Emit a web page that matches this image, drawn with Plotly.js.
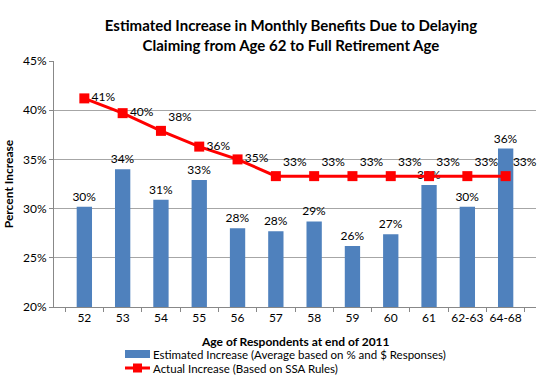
<!DOCTYPE html>
<html><head><meta charset="utf-8">
<script src="https://cdn.plot.ly/plotly-3.0.1.min.js"></script>
<style>html,body{margin:0;padding:0;background:#fff}#chart{width:549px;height:382px}</style>
</head><body><div id="chart"></div>
<script>
const categories = ["52","53","54","55","56","57","58","59","60","61","62-63","64-68"];
const estimated = [30.2, 34.0, 30.9, 32.9, 28.0, 27.7, 28.7, 26.2, 27.4, 32.4, 30.2, 36.1];
const estimatedLabels = ["30%","34%","31%","33%","28%","28%","29%","26%","27%","32%","30%","36%"];
const actual = [41.2, 39.7, 37.9, 36.3, 35.0, 33.3, 33.3, 33.3, 33.3, 33.3, 33.3, 33.3];
const actualLabels = ["41%","40%","38%","36%","35%","33%","33%","33%","33%","33%","33%","33%"];
const seriesNames = ["Estimated Increase (Average based on % and $ Responses)", "Actual Increase (Based on SSA Rules)"];
const xTitle = "Age of Respondents at end of 2011";

const font = "Lato, 'Open Sans', sans-serif";
const blue = "#4F81BD", red = "#FF0000";
const linePos = ["middle right","middle right","top right","middle right","middle right","top right","top right","top right","top right","top right","top right","top right"];

const traces = [
  {type:"bar", x:categories, y:estimated, name:seriesNames[0],
   marker:{color:blue}, text:estimatedLabels, textposition:"outside", cliponaxis:false, constraintext:"none",
   textfont:{family:font, size:12, color:"#000"}, hoverinfo:"skip"},
  {type:"scatter", mode:"lines+markers+text", x:categories, y:actual, name:seriesNames[1],
   line:{color:red, width:3}, marker:{symbol:"square", size:10, color:red},
   text:actualLabels, textposition:linePos, cliponaxis:false,
   textfont:{family:font, size:12, color:"#000"}, hoverinfo:"skip"}
];

const plotL = 54, plotW = 482, plotT = 61, plotH = 246;
const px = x => (x - plotL) / plotW;
const py = y => (plotT + plotH - y) / plotH;

const layout = {
  width:549, height:382,
  margin:{l:54, r:13, t:61, b:75, autoexpand:false},
  paper_bgcolor:"#fff", plot_bgcolor:"#fff",
  font:{family:font, size:12, color:"#000"},
  title:{text:"Estimated Increase in Monthly Benefits Due to Delaying<br>Claiming from Age 62 to Full Retirement Age",
         font:{family:font, size:15, color:"#000", weight:"bold"}, x:0.53, xanchor:"center", y:0.918, yanchor:"middle"},
  bargap:0.6,
  showlegend:false,
  xaxis:{type:"category", showline:true, linecolor:"#888", ticks:"outside", tickson:"boundaries", ticklen:4, tickcolor:"#888",
         tickangle:0, automargin:false,
         tickfont:{family:font, size:12}},
  yaxis:{range:[20,45], dtick:5, ticksuffix:"%", showgrid:true, gridcolor:"#a6a6a6", showline:true, linecolor:"#888",
         ticks:"outside", ticklen:4, tickcolor:"#888", zeroline:false, automargin:false,
         tickfont:{family:font, size:12}, title:{text:"Percent Increase", font:{family:font, size:12, weight:"bold"}, standoff:6}},
  shapes:[
    {type:"rect", xref:"paper", yref:"paper", x0:px(125), x1:px(150), y0:py(358), y1:py(350), fillcolor:blue, line:{width:0}},
    {type:"line", xref:"paper", yref:"paper", x0:px(125), x1:px(150), y0:py(368), y1:py(368), line:{color:red, width:3}},
    {type:"rect", xref:"paper", yref:"paper", x0:px(133), x1:px(142), y0:py(372.5), y1:py(363.5), fillcolor:red, line:{width:0}}
  ],
  annotations:[
    {xref:"paper", yref:"paper", x:0.5, y:py(341), xanchor:"center", yanchor:"middle", showarrow:false,
     text:"<b>" + xTitle + "</b>", font:{family:font, size:12, color:"#000"}},
    {xref:"paper", yref:"paper", x:px(151), y:py(354), xanchor:"left", yanchor:"middle", showarrow:false,
     text:seriesNames[0], font:{family:font, size:11.5, color:"#000"}},
    {xref:"paper", yref:"paper", x:px(151), y:py(368), xanchor:"left", yanchor:"middle", showarrow:false,
     text:seriesNames[1], font:{family:font, size:11.5, color:"#000"}}
  ]
};
Plotly.newPlot("chart", traces, layout, {staticPlot:true});
</script></body></html>
